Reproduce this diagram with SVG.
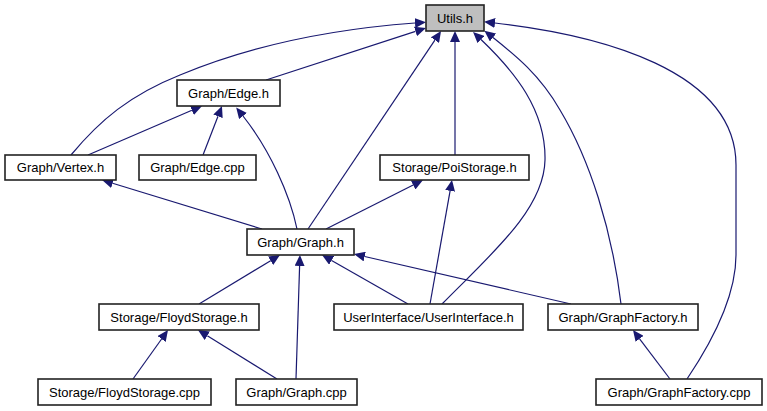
<svg xmlns="http://www.w3.org/2000/svg" width="767" height="411" viewBox="0 0 767 411">
<style>
.n rect{fill:#fff;stroke:#222;stroke-width:1.6}
.n text{font-family:"Liberation Sans",Arial,sans-serif;font-size:13px;text-anchor:middle;fill:#000}
#utils rect{fill:#bfbfbf}
.e path{fill:none;stroke:#191970;stroke-width:1.2;marker-end:url(#ah)}
</style>
<defs>
<marker id="ah" markerUnits="userSpaceOnUse" viewBox="0 0 11 10" markerWidth="11" markerHeight="10" refX="0" refY="5" orient="auto">
<path d="M0,0 L11,5 L0,10 z" fill="#191970"/>
</marker>
</defs>
<rect width="767" height="411" fill="#fff"/>
<g class="e" id="edges">
<path d="M71,155 C100,120 130,95 180,75 C240,50 320,30 415,23"/>
<path d="M266,80 L415.5,31.4"/>
<path d="M308,229 L434.9,40.1"/>
<path d="M455,155 L455,42"/>
<path d="M442,304 C490,255 544,210 545,160 C546,110 515,72 481,39.5"/>
<path d="M621,304 C612,230 590,160 560,110 C540,75 515,55 493,37.5"/>
<path d="M687,379 C720,330 736,290 736,255 L736,165 C736,70 600,35 495,23"/>
<path d="M88,155 L191.9,110.3"/>
<path d="M203,155 L218,116.3"/>
<path d="M297,229 C290,195 270,150 243,116"/>
<path d="M262,229 L112.6,183.3"/>
<path d="M326,229 L413.2,185"/>
<path d="M430,304 L450.1,190.8"/>
<path d="M199,304 L270.6,260.7"/>
<path d="M296,379 L299.6,266"/>
<path d="M408,304 L331.6,260.4"/>
<path d="M571,304 L364.7,256.5"/>
<path d="M133,379 L161.6,339"/>
<path d="M277,379 L207.3,335.8"/>
<path d="M670,379 L639.6,338.8"/>
</g>
<g class="n" id="utils"><rect x="426" y="5" width="58" height="26"/><text x="455" y="23">Utils.h</text></g>
<g class="n" id="edge_h"><rect x="177" y="80" width="103" height="26"/><text x="228.5" y="97.5">Graph/Edge.h</text></g>
<g class="n" id="vertex_h"><rect x="5" y="155" width="111" height="25"/><text x="60.5" y="172">Graph/Vertex.h</text></g>
<g class="n" id="edge_cpp"><rect x="139" y="155" width="117" height="25"/><text x="197.5" y="172">Graph/Edge.cpp</text></g>
<g class="n" id="poistorage_h"><rect x="380" y="155" width="149" height="25"/><text x="454.5" y="172">Storage/PoiStorage.h</text></g>
<g class="n" id="graph_h"><rect x="247" y="229" width="107" height="26"/><text x="300.5" y="246.5">Graph/Graph.h</text></g>
<g class="n" id="floydstorage_h"><rect x="99" y="304" width="160" height="26"/><text x="179" y="321.5">Storage/FloydStorage.h</text></g>
<g class="n" id="userinterface_h"><rect x="334" y="304" width="189" height="26"/><text x="428.5" y="321.5">UserInterface/UserInterface.h</text></g>
<g class="n" id="graphfactory_h"><rect x="548" y="304" width="150" height="26"/><text x="623" y="321.5">Graph/GraphFactory.h</text></g>
<g class="n" id="floydstorage_cpp"><rect x="38" y="379" width="173" height="26"/><text x="124.5" y="396.5">Storage/FloydStorage.cpp</text></g>
<g class="n" id="graph_cpp"><rect x="236" y="379" width="121" height="26"/><text x="296.5" y="396.5">Graph/Graph.cpp</text></g>
<g class="n" id="graphfactory_cpp"><rect x="596" y="379" width="166" height="26"/><text x="679" y="396.5">Graph/GraphFactory.cpp</text></g>
</svg>
